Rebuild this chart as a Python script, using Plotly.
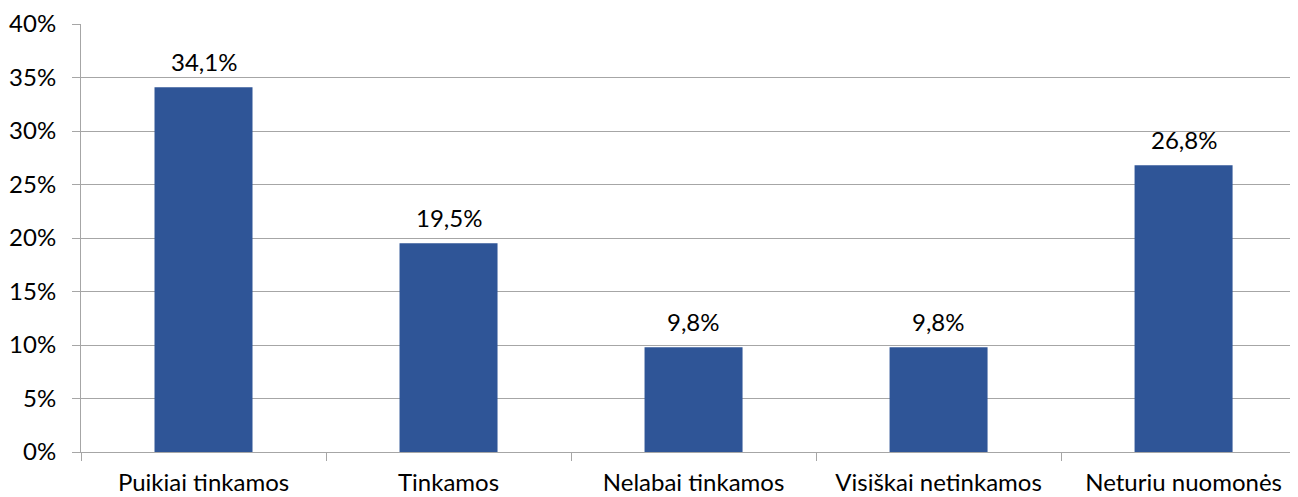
import plotly.graph_objects as go

categories = ["Puikiai tinkamos", "Tinkamos", "Nelabai tinkamos", "Visiškai netinkamos", "Neturiu nuomonės"]
values = [34.1, 19.5, 9.8, 9.8, 26.8]
y_ticks = [0, 5, 10, 15, 20, 25, 30, 35, 40]
y_tick_labels = [f"{v}%" for v in y_ticks]

FONT = "Lato, Open Sans, sans-serif"
GRID = "#A6A6A6"
FS = 24

fig = go.Figure(go.Bar(
    x=categories,
    y=values,
    width=0.4,
    marker=dict(color="#2F5597", line=dict(width=0)),
    hoverinfo="x+y",
))

for c, v in zip(categories, values):
    fig.add_annotation(
        x=c, y=v, xref="x", yref="y",
        text=f"{v:.1f}".replace(".", ",") + "%",
        showarrow=False, yanchor="bottom", yshift=9,
        font=dict(family=FONT, size=FS, color="#000000"),
    )

fig.update_layout(
    width=1290, height=489,
    margin=dict(l=73, r=0, t=16, b=45),
    paper_bgcolor="white", plot_bgcolor="white",
    separators=",.",
    showlegend=False,
    font=dict(family=FONT, size=FS, color="#000000"),
)
fig.update_xaxes(
    range=[-0.5, 4.467],
    tickson="boundaries",
    ticks="outside", ticklen=8, tickcolor=GRID, tickwidth=1,
    showline=True, linecolor=GRID, linewidth=1,
    showgrid=False,
    ticklabelstandoff=9,
    tickfont=dict(family=FONT, size=FS, color="#000000"),
    automargin=False,
)
fig.update_yaxes(
    range=[0, 40],
    tickmode="array",
    tickvals=y_ticks,
    ticktext=y_tick_labels,
    ticks="outside", ticklen=8, tickcolor=GRID, tickwidth=1,
    showline=True, linecolor=GRID, linewidth=1,
    showgrid=True, gridcolor=GRID, gridwidth=1,
    zeroline=False,
    ticklabelstandoff=11,
    tickfont=dict(family=FONT, size=FS, color="#000000"),
    automargin=False,
)

fig.write_html("out.html")
